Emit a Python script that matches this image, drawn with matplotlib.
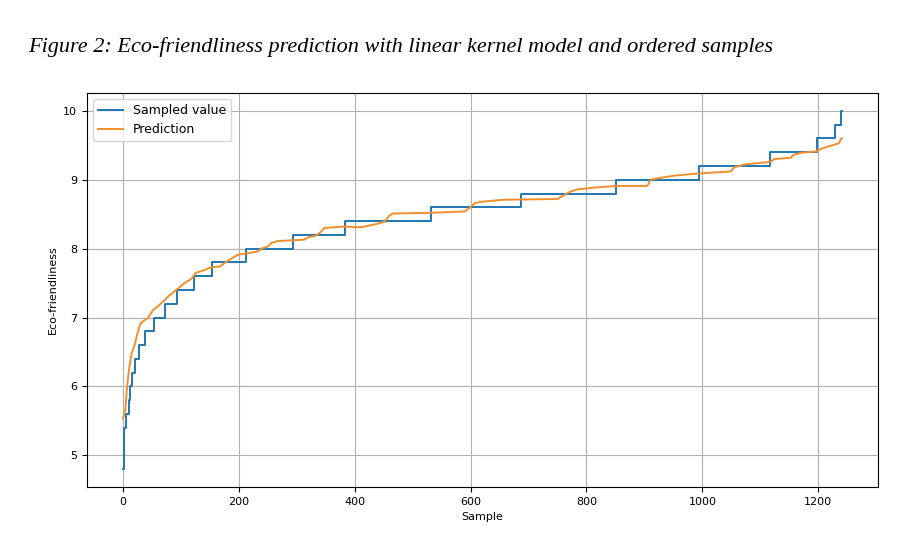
"""Eco-friendliness prediction vs. ordered sampled values."""

import matplotlib

matplotlib.use('Agg')
from matplotlib import pyplot as plt


# sampled value: index where each level starts, and the level
step_start = [0, 1, 5, 10, 12, 15, 21, 28, 38, 53, 72, 93, 123, 153, 212,
              293, 384, 532, 687, 851, 995, 1116, 1197, 1229, 1240, 1241]
step_level = [4.8, 5.4, 5.6, 5.8, 6.0, 6.2, 6.4, 6.6, 6.8, 7.0, 7.2, 7.4,
              7.6, 7.8, 8.0, 8.2, 8.4, 8.6, 8.8, 9.0, 9.2, 9.4, 9.6, 9.8,
              10.0, 10.0]

# prediction
pred_index = [0, 4, 7, 11, 15, 20, 25, 30, 37, 43, 52, 60, 69, 80, 95, 106,
              118, 126, 141, 152, 167, 175, 190, 198, 213, 233, 239, 250,
              256, 267, 290, 313, 319, 333, 340, 348, 382, 411, 439, 451,
              460, 466, 532, 590, 601, 607, 618, 658, 750, 762, 773, 785,
              819, 854, 905, 911, 922, 952, 992, 1049, 1055, 1072, 1107,
              1118, 1124, 1153, 1157, 1170, 1196, 1202, 1216, 1228, 1236,
              1239, 1241]
pred_value = [5.53, 5.65, 5.99, 6.28, 6.48, 6.60, 6.77, 6.91, 6.96, 6.99,
              7.11, 7.16, 7.23, 7.32, 7.42, 7.50, 7.56, 7.65, 7.69, 7.73,
              7.74, 7.79, 7.87, 7.91, 7.93, 7.96, 8.00, 8.03, 8.08, 8.11,
              8.12, 8.13, 8.16, 8.19, 8.23, 8.30, 8.32, 8.31, 8.36, 8.39,
              8.48, 8.51, 8.52, 8.54, 8.61, 8.66, 8.68, 8.71, 8.72, 8.78,
              8.83, 8.86, 8.89, 8.91, 8.91, 9.00, 9.02, 9.06, 9.09, 9.12,
              9.18, 9.22, 9.25, 9.26, 9.30, 9.32, 9.36, 9.39, 9.41, 9.44,
              9.48, 9.51, 9.53, 9.59, 9.60]

TITLE = 'Figure 2: Eco-friendliness prediction with linear kernel model and ordered samples'

fig = plt.figure(figsize=(9.1, 5.34), dpi=100)
ax = fig.add_axes([0.0956, 0.088, 0.8692, 0.738])

ax.plot(step_start, step_level, drawstyle='steps-post', color='#1f77b4',
        linewidth=1.4, label='Sampled value')
ax.plot(pred_index, pred_value, color='#f28e2b', linewidth=1.4,
        label='Prediction')

ax.set_xlabel('Sample', fontsize=8)
ax.set_ylabel('Eco-friendliness', fontsize=8)
ax.tick_params(labelsize=8)
ax.set_xticks([0, 200, 400, 600, 800, 1000, 1200])
ax.set_yticks([5, 6, 7, 8, 9, 10])
ax.grid(True)
ax.legend(loc='upper left', fontsize=9)

fig.text(0.031, 0.902, TITLE, family='Liberation Serif', style='italic',
         fontsize=16, ha='left', va='baseline')

fig.savefig('out.png', dpi=100)
